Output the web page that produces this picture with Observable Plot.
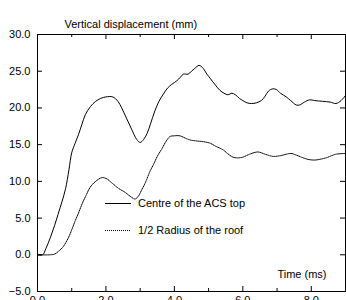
<!DOCTYPE html>
<html>
<head>
<meta charset="utf-8">
<script src="https://cdn.jsdelivr.net/npm/d3@7"></script>
<script src="https://cdn.jsdelivr.net/npm/@observablehq/plot@0.6"></script>
<style>
  html, body { margin: 0; padding: 0; background: #fff; overflow: hidden; }
</style>
</head>
<body>
<div id="chart"></div>
<script>
const title = "Vertical displacement (mm)";
const xLabel = "Time (ms)";
const seriesNames = ["Centre of the ACS top", "1/2 Radius of the roof"];
const xTickLabels = [0, 2, 4, 6, 8];
const xMinorTicks = [1, 3, 5, 7];
const yTickLabels = [-5, 0, 5, 10, 15, 20, 25, 30];

const centreT = [0.00,0.15,0.25,0.38,0.50,0.60,0.72,0.82,0.92,1.00,1.10,1.20,1.30,1.40,1.55,1.70,1.85,2.00,2.20,2.35,2.46,2.60,2.75,2.90,3.00,3.10,3.20,3.30,3.43,3.55,3.68,3.80,3.92,4.07,4.18,4.26,4.40,4.50,4.60,4.72,4.84,4.95,5.05,5.20,5.33,5.45,5.57,5.68,5.78,5.90,6.00,6.12,6.25,6.40,6.54,6.65,6.75,6.88,6.98,7.10,7.27,7.40,7.56,7.66,7.80,7.95,8.10,8.33,8.55,8.72,8.87,9.00];
const centreV = [0,0,0.9,2.4,4.0,5.5,7.3,9.0,11.6,13.9,15.2,16.4,17.8,19.1,20.2,20.9,21.3,21.5,21.5,20.9,20.0,18.6,17.1,15.7,15.3,15.7,16.5,17.8,19.6,20.9,21.9,22.7,23.2,23.7,24.2,24.6,24.6,25.0,25.4,25.8,25.4,24.6,24.0,23.1,22.4,22.0,21.8,22.0,21.8,21.3,21.0,20.7,20.6,20.7,21.0,21.6,22.3,22.6,22.5,22.0,21.5,21.0,20.4,20.4,20.8,21.1,21.0,20.9,20.8,20.6,21.0,21.7];

const roofT = [0.00,0.38,0.50,0.62,0.75,0.91,1.00,1.10,1.20,1.30,1.42,1.54,1.70,1.88,2.00,2.17,2.35,2.56,2.70,2.85,2.95,3.05,3.14,3.29,3.39,3.50,3.63,3.75,3.87,4.00,4.16,4.36,4.50,4.65,4.85,5.04,5.20,5.42,5.55,5.71,5.85,6.00,6.20,6.44,6.65,6.88,7.10,7.41,7.55,7.71,7.90,8.09,8.25,8.43,8.60,8.72,9.00];
const roofV = [0,0,0.1,0.5,1.1,2.4,3.4,4.6,5.7,6.9,8.1,9.2,10.0,10.5,10.4,9.8,9.1,8.5,8.0,7.6,8.0,8.9,9.7,11.4,12.3,13.4,14.4,15.4,16.1,16.2,16.2,15.8,15.6,15.5,15.4,15.2,14.8,14.3,13.8,13.3,13.2,13.3,13.7,14.0,13.7,13.4,13.5,13.8,13.6,13.3,13.0,12.9,13.0,13.2,13.5,13.7,13.8];

const centre = centreT.map((t, i) => ({t, v: centreV[i]}));
const roof = roofT.map((t, i) => ({t, v: roofV[i]}));

const W = 346, H = 300, mL = 37, mR = 1, mT = 34, mB = 9;
const innerW = W - mL - mR, innerH = H - mT - mB;
const fmt = d => (d < 0 ? "\u2212" : "") + Math.abs(d).toFixed(1);
const font = "'Liberation Sans', Arial, Helvetica, sans-serif";

const chart = Plot.plot({
  width: W, height: H,
  marginLeft: mL, marginRight: mR, marginTop: mT, marginBottom: mB,
  style: {fontFamily: font, fontSize: "11px", color: "#000", background: "#fff"},
  x: {domain: [0, 9]},
  y: {domain: [-5, 30]},
  marks: [
    Plot.axisY({ticks: yTickLabels, tickSize: 0, tickPadding: 7, tickFormat: fmt, label: null, fontSize: 11}),
    Plot.axisX({ticks: xTickLabels, tickSize: 0, tickPadding: 5, tickFormat: fmt, label: null, fontSize: 11}),
    // inward ticks
    Plot.tickY(yTickLabels, {y: d => d, stroke: "#000", insetRight: innerW - 5}),
    Plot.tickY(yTickLabels, {y: d => d, stroke: "#000", insetLeft: innerW - 5}),
    Plot.tickX(xTickLabels, {x: d => d, stroke: "#000", insetTop: innerH - 5}),
    Plot.tickX(xMinorTicks, {x: d => d, stroke: "#000", insetTop: innerH - 3}),
    Plot.tickX(xTickLabels, {x: d => d, stroke: "#000", insetBottom: innerH - 5}),
    Plot.tickX(xMinorTicks, {x: d => d, stroke: "#000", insetBottom: innerH - 3}),
    Plot.line(centre, {x: "t", y: "v", stroke: "#000", strokeWidth: 1, curve: "catmull-rom"}),
    Plot.line(roof, {x: "t", y: "v", stroke: "#000", strokeWidth: 1, strokeDasharray: "1,1", curve: "catmull-rom"}),
    Plot.frame({stroke: "#000", strokeWidth: 1}),
    Plot.text([title], {frameAnchor: "top-left", dx: 27, dy: -14, textAnchor: "start", fontSize: 11, fill: "#000"}),
    Plot.text([xLabel], {frameAnchor: "bottom-right", dx: -19, dy: -14, textAnchor: "end", fontSize: 11, fill: "#000"})
  ]
});

// legend inside the frame
const svg = d3.select(chart);
const leg = svg.append("g").attr("font-family", font).attr("font-size", 11).attr("text-anchor", "start");
const legendStyles = [{dash: null, w: 1}, {dash: "1,1", w: 1}];
seriesNames.forEach((name, i) => {
  const y = 203 + i * 27;
  const ln = leg.append("line").attr("x1", 105).attr("x2", 131).attr("y1", y + 0.5).attr("y2", y + 0.5)
    .attr("stroke", "#000").attr("stroke-width", legendStyles[i].w);
  if (legendStyles[i].dash) ln.attr("stroke-dasharray", legendStyles[i].dash);
  leg.append("text").attr("x", 138).attr("y", y).attr("dy", "0.35em")
    .attr("text-anchor", "start").attr("fill", "#000").text(name);
});

document.getElementById("chart").appendChild(chart);
</script>
</body>
</html>
